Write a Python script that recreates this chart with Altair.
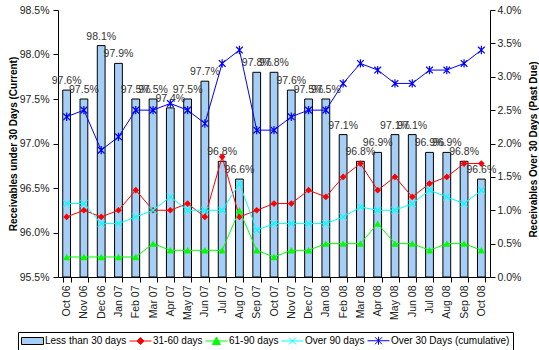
import altair as alt
import pandas as pd

months = ["Oct 06", "Nov 06", "Dec 06", "Jan 07", "Feb 07", "Mar 07", "Apr 07",
          "May 07", "Jun 07", "Jul 07", "Aug 07", "Sep 07", "Oct 07", "Nov 07",
          "Dec 07", "Jan 08", "Feb 08", "Mar 08", "Apr 08", "May 08", "Jun 08",
          "Jul 08", "Aug 08", "Sep 08", "Oct 08"]
less_30 = [97.6, 97.5, 98.1, 97.9, 97.5, 97.5, 97.4, 97.5, 97.7, 96.8, 96.6, 97.8, 97.8,
           97.6, 97.5, 97.5, 97.1, 96.8, 96.9, 97.1, 97.1, 96.9, 96.9, 96.8, 96.6]
d31_60 = [0.9, 1.0, 0.9, 1.0, 1.3, 1.0, 1.0, 1.1, 0.9, 1.8, 0.9, 1.0, 1.1,
          1.1, 1.3, 1.2, 1.5, 1.7, 1.3, 1.5, 1.2, 1.4, 1.5, 1.7, 1.7]
d61_90 = [0.3, 0.3, 0.3, 0.3, 0.3, 0.5, 0.4, 0.4, 0.4, 0.4, 1.0, 0.4, 0.3,
          0.4, 0.4, 0.5, 0.5, 0.5, 0.8, 0.5, 0.5, 0.4, 0.5, 0.5, 0.4]
over_90 = [1.1, 1.1, 0.8, 0.8, 0.9, 1.0, 1.2, 1.0, 1.0, 1.0, 1.4, 0.7, 0.8,
           0.8, 0.8, 0.8, 0.9, 1.05, 1.0, 1.0, 1.1, 1.3, 1.2, 1.1, 1.3]
over_30_cum = [2.4, 2.5, 1.9, 2.1, 2.5, 2.5, 2.6, 2.5, 2.3, 3.2, 3.4, 2.2, 2.2,
               2.4, 2.5, 2.5, 2.9, 3.2, 3.1, 2.9, 2.9, 3.1, 3.1, 3.2, 3.4]

series_names = ["Less than 30 days", "31-60 days", "61-90 days", "Over 90 days",
                "Over 30 Days (cumulative)"]
fill_colors = ["#A6CFF7", "#FF0000", "#00FF00", "#00FFFF", "#0000FF"]
stroke_colors = ["#000000", "#FF0000", "#00FF00", "#00FFFF", "#0000FF"]
left_ticks = [95.5, 96.0, 96.5, 97.0, 97.5, 98.0, 98.5]
right_ticks = [0.0, 0.5, 1.0, 1.5, 2.0, 2.5, 3.0, 3.5, 4.0]

FONT = "Liberation Sans"

df_bar = pd.DataFrame({"month": months, "current": less_30})
line_series = [("31-60 days", d31_60), ("61-90 days", d61_90),
               ("Over 90 days", over_90), ("Over 30 Days (cumulative)", over_30_cum)]
rows = []
for name, vals in line_series:
    for m, v in zip(months, vals):
        rows.append({"month": m, "series": name, "value": v})
df_long = pd.DataFrame(rows)
df_legend = pd.DataFrame({"series": series_names})

x_enc = alt.X("month:N", sort=months,
              scale=alt.Scale(paddingInner=0.55, paddingOuter=0.275),
              axis=alt.Axis(title=None, labelAngle=-90, tickBand="extent",
                            labelPadding=3, labelFontSize=10.5))

y_left = alt.Y("current:Q",
               scale=alt.Scale(domain=[95.5, 98.5], nice=False, zero=False),
               axis=alt.Axis(values=left_ticks,
                             labelExpr="format(datum.value, '.1f') + '%'",
                             title="Receivables under 30 Days (Current)",
                             labelPadding=4, titlePadding=1))

bars = alt.Chart(df_bar).mark_bar(fill="#A6CFF7", stroke="black", strokeWidth=1).encode(
    x=x_enc, y=y_left, y2=alt.datum(95.5))
labels = alt.Chart(df_bar).transform_calculate(
    lab="format(datum.current, '.1f') + '%'"
).mark_text(baseline="bottom", dy=-4, font=FONT, fontSize=10.5, color="#333333").encode(
    x=x_enc, y=alt.Y("current:Q"), text="lab:N")
left = alt.layer(bars, labels)

y_right = alt.Y("value:Q", scale=alt.Scale(domain=[0, 4], nice=False),
                axis=alt.Axis(orient="right", values=right_ticks,
                              labelExpr="format(datum.value, '.1f') + '%'",
                              title="Receivables Over 30 Days (Past Due)",
                              titleAngle=270, titleX=43, titleY=139,
                              titleAlign="center", titleBaseline="middle",
                              labelPadding=2))

marker_specs = {
    "31-60 days": dict(shape="diamond", filled=True, size=45),
    "61-90 days": dict(shape="triangle-up", filled=True, size=55),
    "Over 90 days": dict(shape="M-1,-1L1,1M-1,1L1,-1", filled=False, size=49, strokeWidth=1.2),
    "Over 30 Days (cumulative)": dict(shape="M-0.8,-0.8L0.8,0.8M-0.8,0.8L0.8,-0.8M0,-1V1",
                                      filled=False, size=70, strokeWidth=1.2),
}
right_layers = []
for i, (name, _) in enumerate(line_series):
    col = stroke_colors[i + 1]
    base = alt.Chart(df_long).transform_filter(alt.datum.series == name)
    right_layers.append(base.mark_line(color=col, strokeWidth=1).encode(x=x_enc, y=y_right))
    right_layers.append(base.mark_point(color=col, opacity=1, **marker_specs[name]).encode(
        x=x_enc, y=y_right))

legend_paths = [
    "M-1,-0.7H3.4V0.7H-1Z",
    "M-1,0H3.4M1.2,-0.7L1.9,0L1.2,0.7L0.5,0Z",
    "M-1,0H3.4M1.2,-0.8L2,0.7H0.4Z",
    "M-1,0H3.4M0.5,-0.7L1.9,0.7M0.5,0.7L1.9,-0.7",
    "M-1,0H3.4M0.5,-0.7L1.9,0.7M0.5,0.7L1.9,-0.7M1.2,-0.8V0.8",
]
leg = alt.Legend(title=None, orient="none", legendX=-40, legendY=322,
                 direction="horizontal", columns=5, strokeColor="black", padding=3,
                 symbolSize=100, symbolStrokeWidth=1, symbolOpacity=1,
                 labelFont=FONT, labelFontSize=10, labelColor="black",
                 labelOffset=13, columnPadding=0)
legend_layer = alt.Chart(df_legend).transform_filter("false").mark_point(filled=True).encode(
    shape=alt.Shape("series:N", scale=alt.Scale(domain=series_names, range=legend_paths), legend=leg),
    fill=alt.Fill("series:N", scale=alt.Scale(domain=series_names, range=fill_colors), legend=leg),
    stroke=alt.Stroke("series:N", scale=alt.Scale(domain=series_names, range=stroke_colors), legend=leg),
)
right_layers.append(legend_layer)
right = alt.layer(*right_layers)

chart = alt.layer(left, right).resolve_scale(y="independent").properties(
    width=432, height=267,
    autosize=alt.AutoSizeParams(type="none"),
    padding={"left": 58, "top": 10, "right": 49, "bottom": 73},
    background="white",
).configure_view(stroke=None).configure_axis(
    grid=False, domainColor="black", tickColor="black", tickSize=5,
    labelFont=FONT, labelFontSize=10.5, labelColor="#222222",
    titleFont=FONT, titleFontSize=10, titleFontWeight="bold", titleColor="black",
)

chart.save("out.html", embed_options={"renderer": "svg", "actions": False})
